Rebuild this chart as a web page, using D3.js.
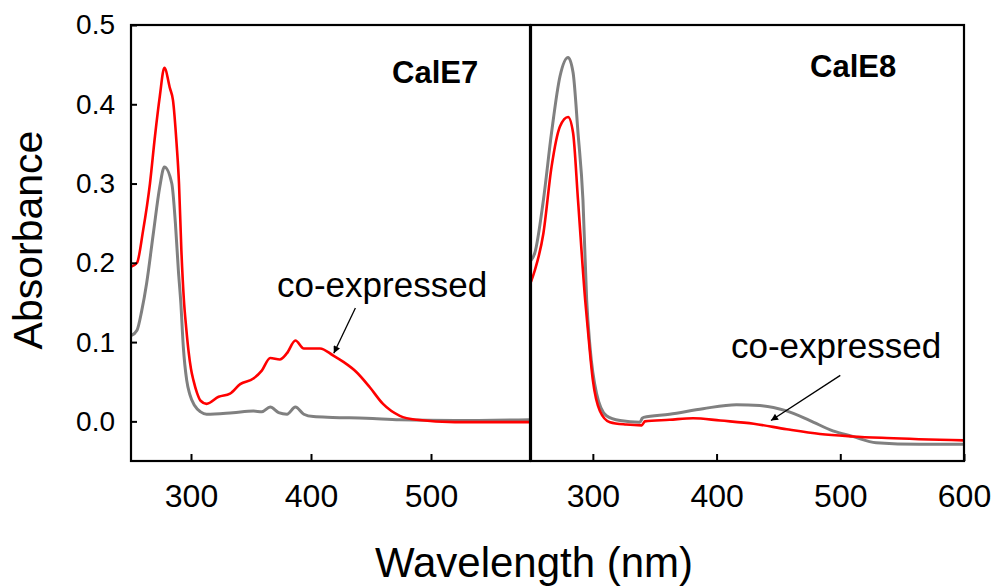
<!DOCTYPE html>
<html>
<head>
<meta charset="utf-8">
<script src="https://cdn.jsdelivr.net/npm/d3@7"></script>
<style>
  body { margin: 0; background: #fff; }
  text { font-family: "Liberation Sans", Arial, sans-serif; }
</style>
</head>
<body>
<div id="chart"></div>
<script>
// CalE7 panel (left)
var cale7AloneNm = [250, 255, 259, 263, 268.6, 274, 277.8, 284, 287, 289.5, 291.5, 293.6, 296.4, 299, 303, 308, 313, 335, 352, 359, 366, 373, 380, 387, 394, 402, 418, 446, 474, 520, 582];
var cale7AloneAbs = [0.108, 0.115, 0.14, 0.174, 0.237, 0.296, 0.321, 0.30, 0.25, 0.19, 0.15, 0.094, 0.052, 0.034, 0.020, 0.012, 0.009, 0.011, 0.013, 0.012, 0.018, 0.011, 0.009, 0.018, 0.009, 0.006, 0.005, 0.004, 0.002, 0.001, 0.002];
var cale7CoNm = [250, 255, 260, 265.8, 270, 274, 277.8, 282.5, 285, 288, 290, 292, 294, 296, 298, 300, 302, 305, 308, 313, 323, 332.5, 341, 352, 359, 366, 374, 380, 387, 394, 407.5, 418.6, 427, 438, 449, 460, 474, 488, 520, 582];
var cale7CoAbs = [0.195, 0.20, 0.24, 0.30, 0.36, 0.41, 0.446, 0.42, 0.405, 0.35, 0.30, 0.215, 0.155, 0.118, 0.088, 0.066, 0.052, 0.036, 0.026, 0.022, 0.031, 0.035, 0.047, 0.054, 0.064, 0.080, 0.078, 0.086, 0.102, 0.092, 0.092, 0.083, 0.075, 0.062, 0.043, 0.022, 0.007, 0.002, -0.001, -0.001];

// CalE8 panel (right)
var cale8AloneNm = [250, 253, 260, 266.6, 273.4, 280, 284, 288, 292, 295, 297.7, 303, 311, 322, 338, 340, 341, 362, 389, 416, 435, 456, 475.5, 494, 510, 529, 564, 600];
var cale8AloneAbs = [0.203, 0.212, 0.279, 0.364, 0.435, 0.459, 0.44, 0.364, 0.279, 0.153, 0.094, 0.035, 0.007, 0.001, -0.001, 0.004, 0.005, 0.009, 0.016, 0.021, 0.020, 0.0135, 0.001, -0.012, -0.019, -0.027, -0.029, -0.029];
var cale8CoNm = [250, 253, 260, 266.6, 273.4, 280, 284, 288, 293.8, 296, 300, 305.6, 313.8, 327, 339.5, 341, 342, 362, 381, 403, 430, 456.7, 483.6, 510, 537.5, 600];
var cale8CoAbs = [0.176, 0.19, 0.237, 0.321, 0.372, 0.384, 0.364, 0.279, 0.153, 0.115, 0.052, 0.0135, -0.001, -0.004, -0.005, -0.002, 0.0, 0.002, 0.004, 0.001, -0.003, -0.01, -0.016, -0.019, -0.021, -0.024];

var yTicks = [0, 0.1, 0.2, 0.3, 0.4, 0.5];
var leftXTicks = [300, 400, 500];
var rightXTicks = [300, 400, 500, 600];

var redColor = "#ff0000",
    grayColor = "#808080";

var width = 995, height = 586;
var plotTop = 25, plotBottom = 461;

var svg = d3.select("#chart").append("svg")
    .attr("width", width)
    .attr("height", height);

// arrow head
svg.append("defs").append("marker")
    .attr("id", "arrow")
    .attr("viewBox", "0 0 10 10")
    .attr("refX", 10).attr("refY", 5)
    .attr("markerWidth", 10).attr("markerHeight", 7)
    .attr("markerUnits", "userSpaceOnUse")
    .attr("orient", "auto")
    .append("path")
    .attr("d", "M0,0 L10,5 L0,10 z")
    .attr("fill", "#000");

var y = d3.scaleLinear().domain([-0.05, 0.5]).range([plotBottom, plotTop]);

var panels = [
    { id: "p7", x0: 131, x1: 530, domain: [250, 582.5], ticks: leftXTicks, yAxis: true,
      series: [[cale7AloneNm, cale7AloneAbs, grayColor, 3], [cale7CoNm, cale7CoAbs, redColor, 2.6]] },
    { id: "p8", x0: 531, x1: 964, domain: [250, 600], ticks: rightXTicks, yAxis: false,
      series: [[cale8AloneNm, cale8AloneAbs, grayColor, 3], [cale8CoNm, cale8CoAbs, redColor, 2.6]] }
];

panels.forEach(function (p) {
    var x = d3.scaleLinear().domain(p.domain).range([p.x0, p.x1]);
    p.x = x;

    svg.append("clipPath").attr("id", "clip-" + p.id)
        .append("rect")
        .attr("x", p.x0).attr("y", plotTop)
        .attr("width", p.x1 - p.x0).attr("height", plotBottom - plotTop);

    var line = d3.line()
        .x(function (d) { return x(d[0]); })
        .y(function (d) { return y(d[1]); })
        .curve(d3.curveMonotoneX);

    p.series.forEach(function (s) {
        var pts = s[0].map(function (v, i) { return [v, s[1][i]]; });
        svg.append("path")
            .datum(pts)
            .attr("clip-path", "url(#clip-" + p.id + ")")
            .attr("fill", "none")
            .attr("stroke", s[2])
            .attr("stroke-width", s[3])
            .attr("stroke-linejoin", "round")
            .attr("d", line);
    });

    // bottom axis, ticks pointing in
    var gx = svg.append("g")
        .attr("transform", "translate(0," + plotBottom + ")")
        .call(d3.axisBottom(x).tickValues(p.ticks).tickSize(-7).tickPadding(23).tickFormat(d3.format("d")));
    gx.select(".domain").remove();
    gx.selectAll("line").attr("stroke", "#000").attr("stroke-width", 2);
    gx.selectAll("text").attr("font-size", 32).attr("fill", "#000")
        .style("font-family", "'Liberation Sans', Arial, sans-serif");

    if (p.yAxis) {
        var gy = svg.append("g")
            .attr("transform", "translate(" + p.x0 + ",0)")
            .call(d3.axisLeft(y).tickValues(yTicks).tickSize(-6).tickPadding(16).tickFormat(d3.format(".1f")));
        gy.select(".domain").remove();
        gy.selectAll("line").attr("stroke", "#000").attr("stroke-width", 2);
        gy.selectAll("text").attr("font-size", 28).attr("fill", "#000")
            .style("font-family", "'Liberation Sans', Arial, sans-serif");
    }

    // frame
    svg.append("rect")
        .attr("x", p.x0).attr("y", plotTop)
        .attr("width", p.x1 - p.x0).attr("height", plotBottom - plotTop)
        .attr("fill", "none")
        .attr("stroke", "#000")
        .attr("stroke-width", 2.2);
});

// panel titles
svg.append("text").attr("x", 392).attr("y", 83)
    .attr("font-size", 31).attr("font-weight", "bold").text("CalE7");
svg.append("text").attr("x", 810).attr("y", 77)
    .attr("font-size", 31).attr("font-weight", "bold").text("CalE8");

// annotations
svg.append("text").attr("x", 277).attr("y", 297)
    .attr("font-size", 35).text("co-expressed");
svg.append("text").attr("x", 731).attr("y", 358)
    .attr("font-size", 35).text("co-expressed");

var x7 = panels[0].x, x8 = panels[1].x;
svg.append("line")
    .attr("x1", x7(437)).attr("y1", y(0.143))
    .attr("x2", x7(419)).attr("y2", y(0.086))
    .attr("stroke", "#000").attr("stroke-width", 1.3)
    .attr("marker-end", "url(#arrow)");
svg.append("line")
    .attr("x1", x8(500)).attr("y1", y(0.058))
    .attr("x2", x8(444)).attr("y2", y(0.001))
    .attr("stroke", "#000").attr("stroke-width", 1.3)
    .attr("marker-end", "url(#arrow)");

// axis titles
svg.append("text")
    .attr("transform", "translate(42,240) rotate(-90)")
    .attr("text-anchor", "middle")
    .attr("font-size", 41).text("Absorbance");
svg.append("text")
    .attr("x", 534).attr("y", 577)
    .attr("text-anchor", "middle")
    .attr("font-size", 42).text("Wavelength (nm)");
</script>
</body>
</html>
